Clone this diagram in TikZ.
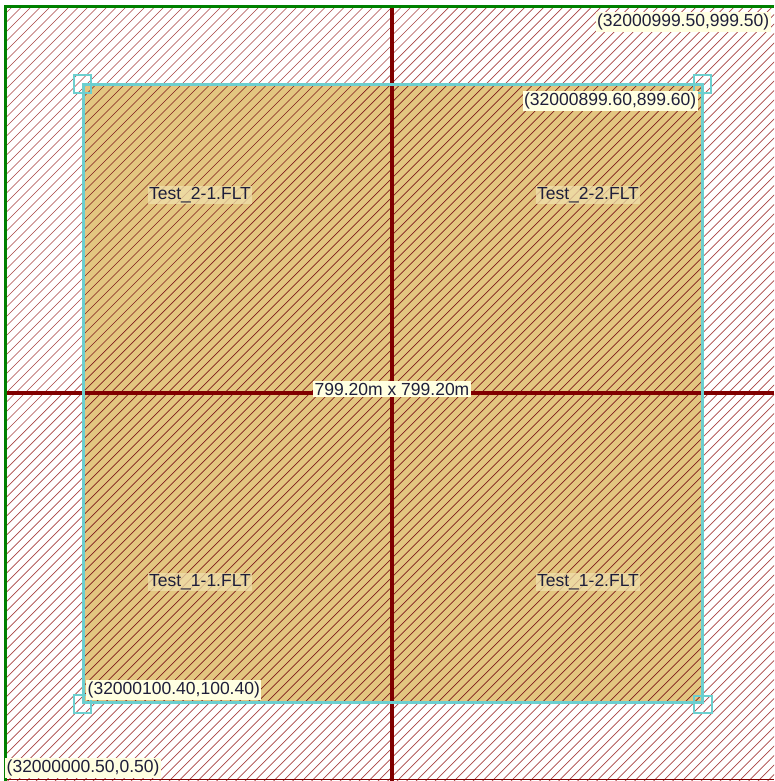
\documentclass[tikz,border=0pt]{standalone}
\usepackage{fontspec}
\setmainfont{Liberation Sans}
\definecolor{grn}{HTML}{008000}
\definecolor{dred}{HTML}{800000}
\definecolor{ohatch}{HTML}{A84444}
\definecolor{ihatch}{HTML}{7E1C1C}
\definecolor{tan}{HTML}{E3C680}
\definecolor{cyn}{HTML}{6CCFCF}
\definecolor{tipbg}{HTML}{FFFFE1}
\definecolor{tiptext}{HTML}{1E1E3A}
\tikzset{
  tip/.style={fill=tipbg, text=tiptext, inner xsep=1.5pt, inner ysep=2pt, font=\fontsize{17.5}{19}\selectfont},
  tile/.style={fill=tan!55!tipbg, fill opacity=0.75, text opacity=1, text=tiptext, inner sep=1pt, font=\fontsize{17.5}{19}\selectfont},
  corner/.style={draw=cyn, line width=2.2pt, minimum size=17.5pt, inner sep=0pt},
}
\begin{document}
\begin{tikzpicture}[x=1pt,y=-1pt]
\useasboundingbox (0,0) rectangle (774,781);
\fill[white] (0,0) rectangle (774,781);
% outer hatch
\begin{scope}
  \clip (5,6) rectangle (774,781);
  \foreach \c in {0,9.5,...,1600} {
    \draw[ohatch, line width=0.7pt] (\c,0) -- (\c-800,800);
  }
\end{scope}
\draw[dred, line width=1.5pt] (5,779.5) -- (774,779.5);
% inner tile area
\fill[tan] (83,85) rectangle (702,702);
\begin{scope}
  \clip (83,85) rectangle (702,702);
  \foreach \c in {0,9.5,...,1600} {
    \draw[ihatch, line width=0.7pt] (\c,0) -- (\c-800,800);
  }
\end{scope}
% cross lines
\draw[dred, line width=4pt] (391.5,6) -- (391.5,781);
\draw[dred, line width=4pt] (5,393) -- (774,393);
% outer green border
\draw[grn, line width=3pt] (5.5,781) -- (5.5,6.5) -- (774,6.5);
% selection rectangle
\draw[cyn, line width=3pt] (83,85) rectangle (702,702);
\node[corner] (c1) at (82.5,84) {};
\node[corner] (c2) at (702.5,84) {};
\node[corner] (c3) at (82.5,704) {};
\node[corner] (c4) at (703,704.5) {};
% labels
\node[tip, anchor=east] (ur) at (771,22) {(32000999.50,999.50)};
\node[tip, anchor=east] (ir) at (698,101) {(32000899.60,899.60)};
\node[tip, anchor=west] (il) at (86,690) {(32000100.40,100.40)};
\node[tip, anchor=west] (ll) at (5,768) {(32000000.50,0.50)};
\node[tip] (dim) at (392,389) {799.20m x 799.20m};
\node[tile] (t21) at (200,195) {Test\_2-1.FLT};
\node[tile] (t22) at (588,195) {Test\_2-2.FLT};
\node[tile] (t11) at (200,582) {Test\_1-1.FLT};
\node[tile] (t12) at (588,582) {Test\_1-2.FLT};
\end{tikzpicture}
\end{document}
